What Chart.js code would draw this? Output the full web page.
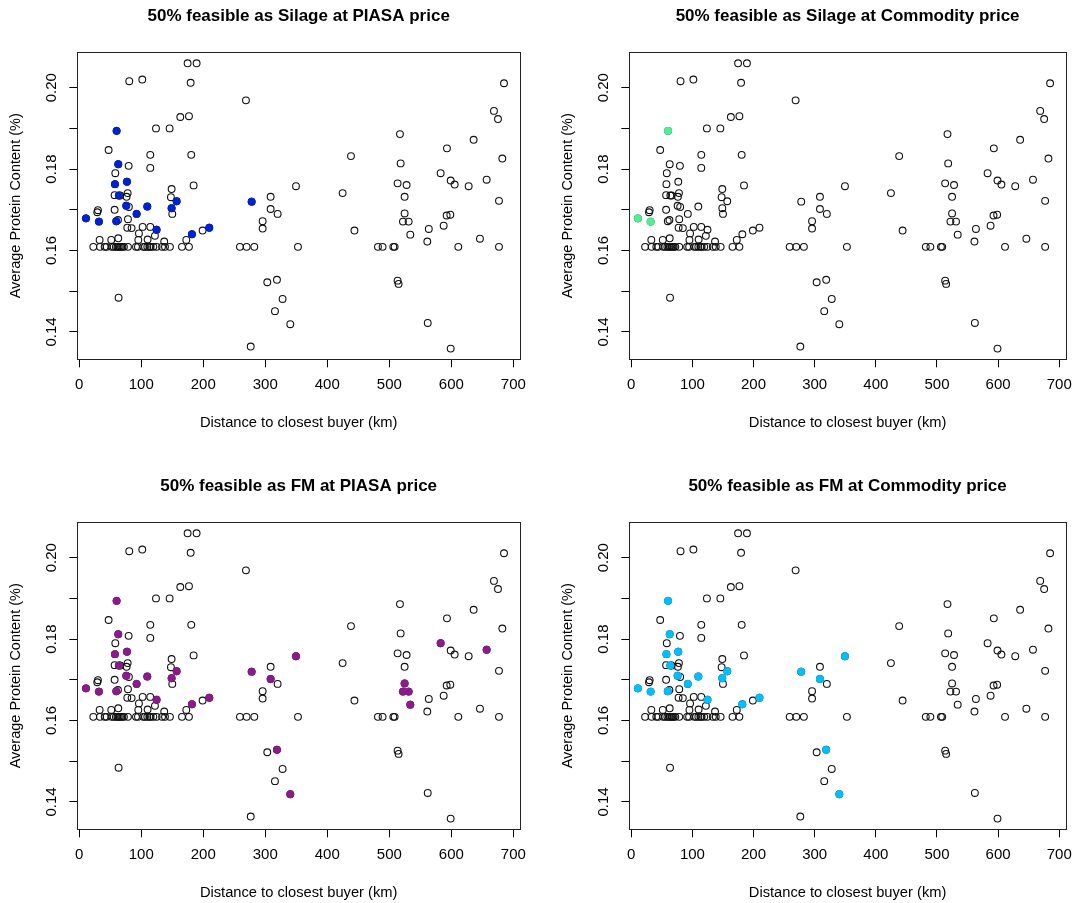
<!DOCTYPE html>
<html>
<head>
<meta charset="utf-8">
<title>Protein content vs distance</title>
<script src="https://cdn.jsdelivr.net/npm/chart.js@4.4.0/dist/chart.umd.min.js"></script>
<style>
    body { margin: 0; background: #fff; }
    #wrap { position: relative; width: 1081px; height: 903px; }
    canvas { position: absolute; }
</style>
</head>
<body>
<div id="wrap">
    <canvas id="silagePiasaChart" width="552" height="470" style="left:0;top:0"></canvas>
    <canvas id="silageCommodityChart" width="529" height="470" style="left:552px;top:0"></canvas>
    <canvas id="fmPiasaChart" width="552" height="433" style="left:0;top:470px"></canvas>
    <canvas id="fmCommodityChart" width="529" height="433" style="left:552px;top:470px"></canvas>
</div>
<script>
// distance to closest buyer (km) and average protein content for every site
// first 27 entries are the ones that get highlighted in one panel or another
const distanceKm = [
    60.2, 62.9, 57.5, 76.9, 63.9, 75.8, 109.7, 157.0, 148.9, 92.5, 10.8, 31.7, 59.7, 124.7, 181.7, 209.7, 278.0,
    308.6, 349.5, 318.8, 340.3,
    582.8, 657.0, 524.7, 522.0, 531.2, 533.9,
    174.7, 189.2, 80.6, 101.6, 179.6, 162.9, 176.9, 123.7, 145.7, 47.3, 114.5, 180.6, 79.6, 114.5, 58.1,
    184.4, 148.9, 57.0, 78.0, 76.3, 147.8, 66.0, 30.1, 29.0, 57.0, 80.0, 150.0, 62.4, 78.5, 77.4, 84.4,
    102.2, 114.5, 198.9, 96.2, 122.0, 95.2, 110.2, 32.8, 51.6, 62.9, 137.0, 172.6, 63.4,
    22.6, 33.3, 41.0, 44.1, 52.2, 55.5, 59.0, 61.5, 63.5, 65.5, 67.5, 69.5, 72.0, 78.5, 91.4, 94.6,
    103.2, 106.0, 109.7, 113.0, 115.1, 119.4, 124.7, 133.5, 138.2, 146.2, 165.6, 176.9, 259.1, 269.9,
    282.3, 352.7, 481.7, 489.2, 506.5, 508.6, 611.3, 676.9,
    268.8, 276.5, 308.6, 319.9, 295.7, 295.7, 303.2, 327.9, 315.6,
    685.0, 668.8, 675.3, 517.2, 636.0, 593.0, 438.2, 682.3, 518.3, 513.4, 527.9, 599.0, 605.4, 628.0,
    424.7, 524.7, 676.9, 443.8, 563.7, 561.3, 587.7, 592.5, 598.4, 646.2, 513.4, 515.0, 562.0, 599.0
];
const proteinPct = [
    0.1894, 0.1812, 0.1763, 0.1769, 0.1735, 0.1710, 0.1708, 0.1721, 0.1704, 0.1690, 0.1679, 0.1671, 0.1672, 0.1651, 0.1640, 0.1656, 0.1720,
    0.1702, 0.1758, 0.1528, 0.1419,
    0.1790, 0.1774, 0.1691, 0.1671, 0.1671, 0.1639,
    0.2060, 0.2060, 0.2016, 0.2020, 0.2012, 0.1928, 0.1930, 0.1900, 0.1900, 0.1847, 0.1835, 0.1835, 0.1808, 0.1803, 0.1790,
    0.1760, 0.1751, 0.1736, 0.1741, 0.1732, 0.1731, 0.1735, 0.1699, 0.1694, 0.1700, 0.1707, 0.1690, 0.1675, 0.1677, 0.1656, 0.1655,
    0.1658, 0.1658, 0.1649, 0.1642, 0.1636, 0.1626, 0.1627, 0.1626, 0.1626, 0.1630, 0.1622, 0.1626, 0.1484,
    0.1609, 0.1609, 0.1609, 0.1609, 0.1609, 0.1609, 0.1609, 0.1609, 0.1609, 0.1609, 0.1609, 0.1609, 0.1609, 0.1609, 0.1609, 0.1609,
    0.1609, 0.1609, 0.1609, 0.1609, 0.1609, 0.1609, 0.1609, 0.1609, 0.1609, 0.1609, 0.1609, 0.1609, 0.1609, 0.1609,
    0.1609, 0.1609, 0.1609, 0.1609, 0.1609, 0.1609, 0.1609, 0.1609,
    0.1969, 0.1364, 0.1732, 0.1690, 0.1672, 0.1654, 0.1522, 0.1481, 0.1451,
    0.2011, 0.1943, 0.1923, 0.1886, 0.1872, 0.1851, 0.1832, 0.1826, 0.1814, 0.1765, 0.1761, 0.1772, 0.1762, 0.1758,
    0.1741, 0.1732, 0.1722, 0.1649, 0.1653, 0.1622, 0.1661, 0.1686, 0.1688, 0.1629, 0.1526, 0.1518, 0.1422, 0.1359
];

// which sites are feasible in each scenario (indexes into the arrays above)
const silagePiasa = [0, 1, 2, 3, 4, 5, 6, 7, 8, 9, 10, 11, 12, 13, 14, 15, 16];
const silageCommodity = [0, 10, 11];
const fmPiasa = [0, 1, 2, 3, 4, 5, 6, 7, 8, 9, 10, 11, 12, 13, 14, 15, 16, 17, 18, 19, 20, 21, 22, 23, 24, 25, 26];
const fmCommodity = [0, 1, 2, 3, 4, 5, 6, 7, 8, 9, 10, 11, 12, 13, 14, 15, 16, 17, 18, 19, 20];

const xTicks = [0, 100, 200, 300, 400, 500, 600, 700];
const yTickLabels = ['0.14', '0.16', '0.18', '0.20'];

const FONT = '"Liberation Sans", Arial, Helvetica, sans-serif';

// R style box round the plot region
const boxPlugin = {
    id: 'box',
    afterDatasetsDraw(chart) {
        const a = chart.chartArea;
        const ctx = chart.ctx;
        ctx.save();
        ctx.strokeStyle = '#222';
        ctx.lineWidth = 1;
        ctx.strokeRect(Math.round(a.left) + 0.5, Math.round(a.top) + 0.5,
            Math.round(a.right - a.left), Math.round(a.bottom - a.top));
        ctx.restore();
    }
};

function makeChart(canvasId, title, picked, color, padRight, padBottom) {
    const highlighted = picked.map(i => ({ x: distanceKm[i], y: proteinPct[i] }));
    const allSites = distanceKm.map((d, i) => ({ x: d, y: proteinPct[i] }));

    return new Chart(document.getElementById(canvasId).getContext('2d'), {
        type: 'scatter',
        data: {
            datasets: [{
                data: highlighted,
                pointRadius: 3.6,
                pointBorderWidth: 1,
                pointBackgroundColor: color,
                pointBorderColor: color
            }, {
                data: allSites,
                pointRadius: 3.4,
                pointBorderWidth: 1.1,
                pointBackgroundColor: 'rgba(0,0,0,0)',
                pointBorderColor: '#111'
            }]
        },
        options: {
            responsive: false,
            animation: false,
            layout: { padding: { left: 0, top: 0, right: padRight, bottom: padBottom } },
            plugins: {
                legend: { display: false },
                tooltip: { enabled: false },
                title: {
                    display: true,
                    text: title,
                    fullSize: false,
                    color: '#000',
                    font: { family: FONT, size: 17, weight: 'bold' },
                    padding: { top: 6, bottom: 25.9 }
                }
            },
            scales: {
                x: {
                    type: 'linear',
                    min: -3.2,
                    max: 710.8,
                    afterFit: s => { s.height = 72; },
                    border: { display: false },
                    grid: { display: true, drawOnChartArea: false, drawTicks: true, tickLength: 8, color: '#000' },
                    afterBuildTicks: s => { s.ticks = xTicks.map(v => ({ value: v })); },
                    ticks: {
                        autoSkip: false, maxRotation: 0, padding: 9, color: '#000',
                        font: { family: FONT, size: 15 }
                    },
                    title: {
                        display: true, text: 'Distance to closest buyer (km)', color: '#000',
                        font: { family: FONT, size: 14.7 }, padding: { top: 0, bottom: 0 }
                    }
                },
                y: {
                    type: 'linear',
                    min: 0.13327,
                    max: 0.2087,
                    afterFit: s => { s.width = 77.3; },
                    border: { display: false },
                    grid: { display: true, drawOnChartArea: false, drawTicks: true, tickLength: 8, color: '#000' },
                    ticks: {
                        stepSize: 0.01, includeBounds: false, autoSkip: false,
                        minRotation: 90, maxRotation: 90, crossAlign: 'center', padding: 3,
                        color: '#000', font: { family: FONT, size: 15 },
                        callback: v => {
                            const s = v.toFixed(2);
                            return yTickLabels.includes(s) ? s : '';
                        }
                    },
                    title: {
                        display: true, text: 'Average Protein Content (%)', color: '#000',
                        font: { family: FONT, size: 14.5 }, padding: { top: 7, bottom: 0 }
                    }
                }
            }
        },
        plugins: [boxPlugin]
    });
}

makeChart('silagePiasaChart', '50% feasible as Silage at PIASA price', silagePiasa, '#0022d0', 32, 38.7);
makeChart('silageCommodityChart', '50% feasible as Silage at Commodity price', silageCommodity, '#4eee94', 8, 38.7);
makeChart('fmPiasaChart', '50% feasible as FM at PIASA price', fmPiasa, '#8b1a8b', 32, 1.7);
makeChart('fmCommodityChart', '50% feasible as FM at Commodity price', fmCommodity, '#00bfff', 8, 1.7);
</script>
</body>
</html>
